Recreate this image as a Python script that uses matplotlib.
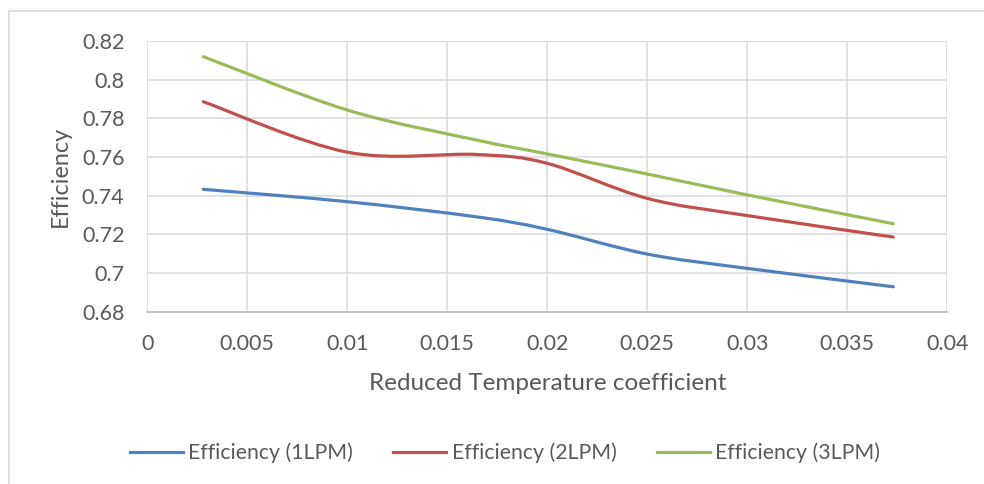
import matplotlib
matplotlib.use("Agg")
import matplotlib.pyplot as plt
from matplotlib.path import Path
from matplotlib.patches import PathPatch, Rectangle
from matplotlib.lines import Line2D

# reduced temperature coefficient (shared x values)
x_vals = [0.0028, 0.0100, 0.0165, 0.0200, 0.0250, 0.0300, 0.0373]
eff_1lpm = [0.7433, 0.7369, 0.7290, 0.7226, 0.7098, 0.7024, 0.6929]
eff_2lpm = [0.7886, 0.7625, 0.7613, 0.7567, 0.7386, 0.7297, 0.7186]
eff_3lpm = [0.8119, 0.7843, 0.7687, 0.7616, 0.7512, 0.7404, 0.7255]

labels = ["Efficiency (1LPM)", "Efficiency (2LPM)", "Efficiency (3LPM)"]
colors = ["#4f81bd", "#c0504d", "#9bbb59"]
x_ticks = [0, 0.005, 0.01, 0.015, 0.02, 0.025, 0.03, 0.035, 0.04]
x_tick_labels = ["0", "0.005", "0.01", "0.015", "0.02", "0.025", "0.03", "0.035", "0.04"]
y_ticks = [0.68, 0.70, 0.72, 0.74, 0.76, 0.78, 0.80, 0.82]
y_tick_labels = ["0.68", "0.7", "0.72", "0.74", "0.76", "0.78", "0.8", "0.82"]

text_col = "#595959"
plt.rcParams["font.family"] = ["Lato", "DejaVu Sans"]


def smooth_path(xs, ys):
    # excel-like smoothed line as cubic bezier segments
    pts = list(zip(xs, ys))
    n = len(pts)
    verts = [pts[0]]
    codes = [Path.MOVETO]
    for i in range(n - 1):
        p0 = pts[max(i - 1, 0)]
        p1 = pts[i]
        p2 = pts[i + 1]
        p3 = pts[min(i + 2, n - 1)]
        c1 = (p1[0] + (p2[0] - p0[0]) / 6, p1[1] + (p2[1] - p0[1]) / 6)
        c2 = (p2[0] - (p3[0] - p1[0]) / 6, p2[1] - (p3[1] - p1[1]) / 6)
        verts += [c1, c2, p2]
        codes += [Path.CURVE4] * 3
    return Path(verts, codes)


fig = plt.figure(figsize=(9.84, 4.84), dpi=100)
fig.patches.append(Rectangle((9 / 984, -0.1), 1.2, 1 - 11 / 484 + 0.1,
                             transform=fig.transFigure, fill=False,
                             edgecolor="#d9d9d9", linewidth=1.2))

ax = fig.add_axes([147.3 / 984, 1 - 311.7 / 484, 800 / 984, 270.7 / 484])
ax.set_xlim(0, 0.04)
ax.set_ylim(0.68, 0.82)

for ys, c in zip([eff_1lpm, eff_2lpm, eff_3lpm], colors):
    ax.add_patch(PathPatch(smooth_path(x_vals, ys), fill=False, edgecolor=c,
                           linewidth=2.3, capstyle="round", zorder=3))

ax.set_xticks(x_ticks)
ax.set_xticklabels(x_tick_labels)
ax.set_yticks(y_ticks)
ax.set_yticklabels(y_tick_labels)
ax.grid(True, color="#d9d9d9", linewidth=1.1)
ax.set_axisbelow(True)
for s in ["top", "right", "left"]:
    ax.spines[s].set_visible(False)
ax.spines["bottom"].set_color("#bfbfbf")
ax.spines["bottom"].set_linewidth(1.3)
ax.tick_params(length=0, labelsize=15.5, labelcolor=text_col)
ax.tick_params(axis="x", pad=16)
ax.tick_params(axis="y", pad=16.5)

ax.set_xlabel("Reduced Temperature coefficient", fontsize=17.5, color=text_col, labelpad=14)
ax.set_ylabel("Efficiency", fontsize=16.8, color=text_col, labelpad=8)

handles = [Line2D([], [], color=c, linewidth=2.3) for c in colors]
fig.legend(handles, labels, loc="center", bbox_to_anchor=(505 / 984, 1 - 453 / 484),
           ncol=3, frameon=False, fontsize=15.3, handlelength=2.5, handletextpad=0.25,
           columnspacing=1.9, labelcolor=text_col)

fig.savefig("out.png", dpi=100)
